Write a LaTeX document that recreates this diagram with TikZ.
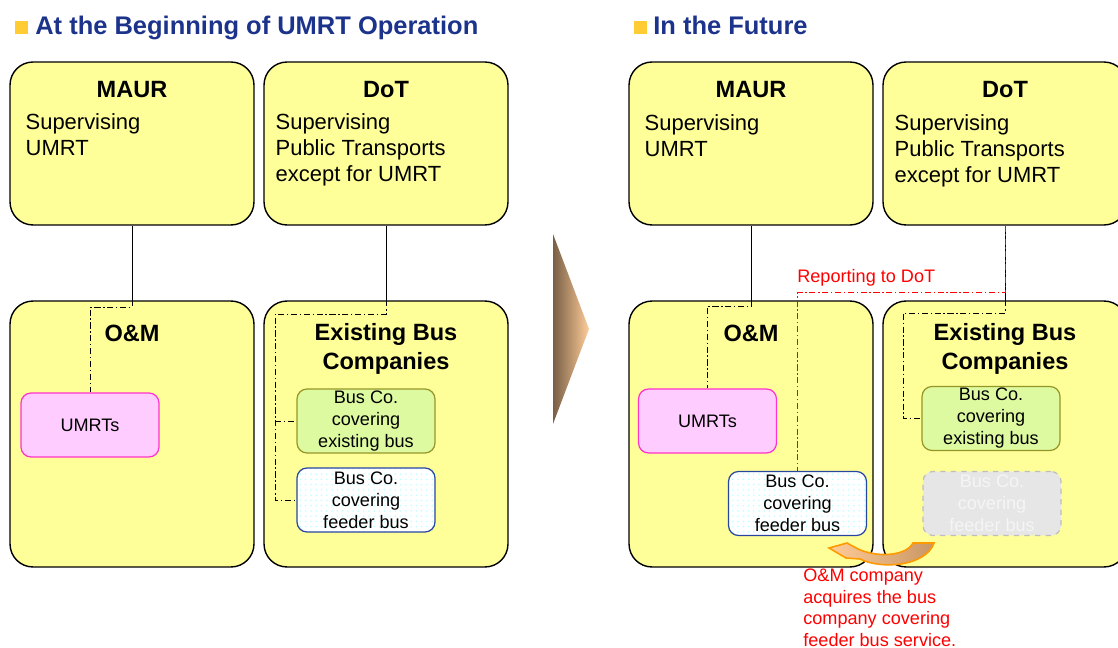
\documentclass[tikz,border=0pt]{standalone}
\usepackage{fontspec}
\setmainfont{Liberation Sans}
\usetikzlibrary{calc,patterns}
\definecolor{boxyellow}{RGB}{255,255,153}
\definecolor{titleblue}{RGB}{28,51,140}
\definecolor{bulletgold}{RGB}{255,204,51}
\definecolor{umrtpink}{RGB}{255,204,255}
\definecolor{umrtline}{RGB}{255,51,204}
\definecolor{exgreen}{RGB}{222,250,160}
\definecolor{exline}{RGB}{150,150,40}
\definecolor{fdrline}{RGB}{40,70,160}
\definecolor{ghostfill}{RGB}{230,230,230}
\definecolor{ghostline}{RGB}{190,190,190}
\definecolor{repred}{RGB}{255,0,0}
\definecolor{arrbrown}{RGB}{120,95,70}
\definecolor{arrpeach}{RGB}{255,204,153}
\definecolor{acqtan}{RGB}{200,150,100}
\definecolor{acqorange}{RGB}{255,153,0}
\tikzset{panel/.style={draw, line width=0.8pt, fill=boxyellow, rounded corners=0.46cm, minimum width=4.88cm},
  toppanel/.style={panel, minimum height=3.26cm},
  lowpanel/.style={panel, minimum height=5.32cm},
  unit/.style={draw, line width=0.7pt, rounded corners=0.2cm, minimum width=2.76cm, minimum height=1.28cm,
    align=center, inner sep=0pt, font=\fontsize{10.3}{12.5}\selectfont},
  umrt/.style={unit, fill=umrtpink, draw=umrtline},
  exbus/.style={unit, fill=exgreen, draw=exline},
  fdrbus/.style={unit, draw=fdrline, preaction={fill=white}, pattern=dots, pattern color=cyan!25},
  ghostbus/.style={unit, fill=ghostfill, draw=ghostline, dashed, text=white!96!black},
  head/.style={font=\bfseries\fontsize{13.4}{16.4}\selectfont, align=center, inner sep=0pt, anchor=north},
  body/.style={font=\fontsize{12.5}{14.7}\selectfont, align=left, inner sep=0pt, anchor=north west},
  heading/.style={font=\bfseries\fontsize{14.5}{17}\selectfont, text=titleblue, inner sep=0pt, anchor=base west},
  bulletbox/.style={fill=bulletgold, minimum size=0.26cm, inner sep=0pt},
  link/.style={line width=0.5pt},
  sublink/.style={line width=0.5pt, dash pattern=on 3.5pt off 1.5pt on 0.8pt off 1.5pt},
  replink/.style={sublink, draw=repred},
  note/.style={text=repred, font=\fontsize{10.3}{12.2}\selectfont, inner sep=0pt, align=left}}

\begin{document}
\begin{tikzpicture}[x=0.02cm, y=-0.02cm]
  \useasboundingbox (0,0) rectangle (1118,648);
  % left half: at the beginning
  \node[bulletbox] (bulL) at (21.5,28) {};
  \node[heading] (titL) at (35,35) {At the Beginning of UMRT Operation};
  \node[toppanel] (maurL) at (132,143.5) {};
  \node[toppanel] (dotL) at (386,143.5) {};
  \node[lowpanel] (omL) at (132,434) {};
  \node[lowpanel] (busL) at (386,434) {};
  \node[head] at ($(maurL.north)+(0,20)$) {MAUR};
  \node[body] at ($(maurL.north west)+(16,52)$) {Supervising\\UMRT};
  \node[head] at ($(dotL.north)+(0,20)$) {DoT};
  \node[body] at ($(dotL.north west)+(12,52)$) {Supervising\\Public Transports\\except for UMRT};
  \node[head] at ($(omL.north)+(0,24)$) {O\&M};
  \node[head] at ($(busL.north)+(0,23)$) {Existing Bus\\Companies};
  \node[umrt] (umrtL) at (90,425) {UMRTs};
  \node[exbus] (exbL) at (366,421) {Bus Co.\\covering\\existing bus};
  \node[fdrbus] (fdrL) at (366,500) {Bus Co.\\covering\\feeder bus};
  \draw[link] (maurL.south) -- (omL.north);
  \draw[link] (dotL.south) -- (busL.north);
  \draw[sublink] (omL.north) -- ++(0,7) -| (umrtL.north);
  \coordinate (jL) at (275,314);
  \draw[sublink] (busL.north) |- (jL) -- (jL |- fdrL.west) -- (fdrL.west);
  \draw[sublink] (jL |- exbL.west) -- (exbL.west);
  % arrow between the halves
  \shade[left color=arrbrown, right color=arrpeach] (553,234) -- (589,329) -- (553,424) -- cycle;
  % right half: in the future
  \node[bulletbox] (bulR) at (640.5,28) {};
  \node[heading] (titR) at (653,35) {In the Future};
  \node[toppanel] (maurR) at (751,143.5) {};
  \node[toppanel] (dotR) at (1005,143.5) {};
  \node[lowpanel] (omR) at (751,434) {};
  \node[lowpanel] (busR) at (1005,434) {};
  \node[head] at ($(maurR.north)+(0,20)$) {MAUR};
  \node[body] at ($(maurR.north west)+(16,53)$) {Supervising\\UMRT};
  \node[head] at ($(dotR.north)+(0,20)$) {DoT};
  \node[body] at ($(dotR.north west)+(12,53)$) {Supervising\\Public Transports\\except for UMRT};
  \node[head] at ($(omR.north)+(0,24)$) {O\&M};
  \node[head] at ($(busR.north)+(0,23)$) {Existing Bus\\Companies};
  \node[umrt] (umrtR) at (707.5,421) {UMRTs};
  \node[fdrbus] (fdrR) at (797.5,503.5) {Bus Co.\\covering\\feeder bus};
  \node[exbus] (exbR) at (991,418.5) {Bus Co.\\covering\\existing bus};
  \node[ghostbus] (ghostR) at (992,503.5) {Bus Co.\\covering\\feeder bus};
  \draw[link] (maurR.south) -- (omR.north);
  \draw[link] (dotR.south) -- (busR.north);
  \draw[sublink] (omR.north) -- ++(0,6) -| (umrtR.north);
  \coordinate (jR) at (903,313);
  \draw[sublink] (busR.north) |- (jR) -- (jR |- exbR.west) -- (exbR.west);
  \draw[replink] (dotR.south) -- ++(0,67) -| (fdrR.north);
  \node[note, anchor=base west] (repR) at (797,283) {Reporting to DoT};
  % acquisition arrow
  \shadedraw[draw=acqorange, line width=0.9pt, left color=arrpeach, right color=acqtan]
    (829,548) -- (847,543) -- (858,549) .. controls (878,558) and (906,556) .. (913,543)
    -- (934,543) .. controls (926,566) and (882,570) .. (860,559) -- (846,558) -- cycle;
  \node[note, anchor=north west] (acqR) at (803,569)
    {O\&M company\\acquires the bus\\company covering\\feeder bus service.};
\end{tikzpicture}
\end{document}
